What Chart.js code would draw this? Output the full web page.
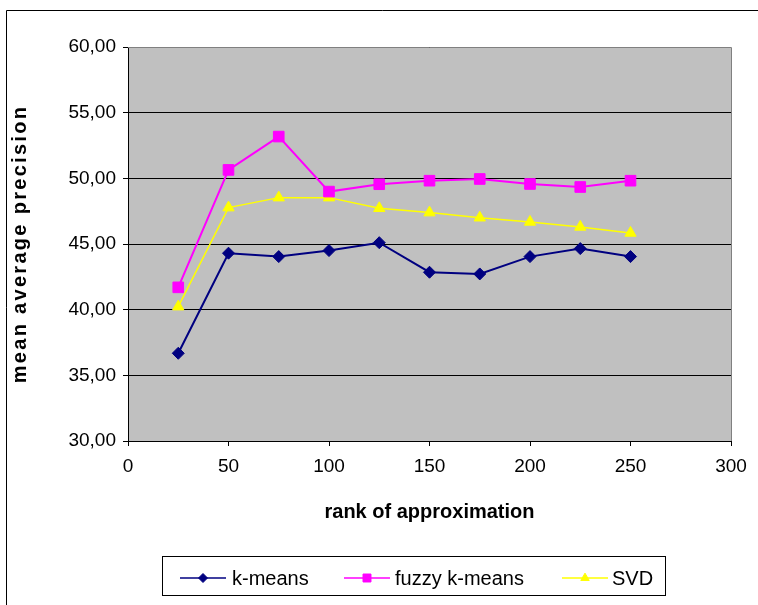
<!DOCTYPE html>
<html>
<head>
<meta charset="utf-8">
<script src="https://cdn.jsdelivr.net/npm/chart.js@4/dist/chart.umd.min.js"></script>
<style>
	html, body { margin: 0; padding: 0; background: #ffffff; }
	#wrap { position: relative; width: 758px; height: 605px; }
</style>
</head>
<body>
<div id="wrap"><canvas id="chart" width="758" height="605"></canvas></div>
<script>
// rank of approximation
const ranks = [25, 50, 75, 100, 125, 150, 175, 200, 225, 250]

// mean average precision per method
const kmeans = [36.68, 44.30, 44.04, 44.50, 45.10, 42.85, 42.72, 44.04, 44.65, 44.04]
const fuzzy_kmeans = [41.70, 50.64, 53.18, 48.99, 49.55, 49.82, 49.95, 49.57, 49.34, 49.82]
const svd = [40.23, 47.77, 48.53, 48.53, 47.72, 47.39, 47.00, 46.68, 46.30, 45.84]

const series_names = ["k-means", "fuzzy k-means", "SVD"]
const y_title = "mean average precision"
const x_title = "rank of approximation"

const FONT = "'Liberation Sans', Arial, sans-serif"

const to_points = values => values.map((v, i) => ({ x: ranks[i], y: v }))

/**
 * Gray plot area, frame, y title and legend box
 */
const frame_plugin = {
	id: "frame",
	beforeDraw(chart) {
		const { ctx, chartArea: a } = chart
		ctx.save()
		ctx.fillStyle = "#c0c0c0"
		ctx.fillRect(a.left, a.top, a.right - a.left, a.bottom - a.top)
		ctx.restore()
	},
	afterDraw(chart) {
		const { ctx, chartArea: a } = chart
		ctx.save()

		// outer chart border
		ctx.strokeStyle = "#000000"
		ctx.lineWidth = 1
		ctx.beginPath()
		ctx.moveTo(6.5, 605)
		ctx.lineTo(6.5, 10.5)
		ctx.lineTo(758, 10.5)
		ctx.stroke()

		// top and right edge of plot area
		ctx.strokeStyle = "#808080"
		ctx.beginPath()
		ctx.moveTo(a.left, a.top + 0.5)
		ctx.lineTo(a.right + 0.5, a.top + 0.5)
		ctx.lineTo(a.right + 0.5, a.bottom)
		ctx.stroke()

		// y axis title, spaced letters
		ctx.save()
		ctx.translate(20, (a.top + a.bottom) / 2)
		ctx.rotate(-Math.PI / 2)
		ctx.font = "bold 20px " + FONT
		ctx.letterSpacing = "2.3px"
		ctx.textAlign = "center"
		ctx.textBaseline = "middle"
		ctx.fillStyle = "#000000"
		ctx.fillText(y_title, 0, 0)
		ctx.restore()

		// legend
		ctx.strokeStyle = "#000000"
		ctx.lineWidth = 1
		ctx.strokeRect(162.5, 556.5, 503, 39)

		const items = [
			{ x: 180, text_x: 232 },
			{ x: 344, text_x: 395 },
			{ x: 562, text_x: 612 }
		]
		const mid_y = 578
		ctx.font = "20px " + FONT
		ctx.textBaseline = "middle"

		items.forEach((item, i) => {
			const ds = chart.data.datasets[i]
			ctx.strokeStyle = ds.borderColor
			ctx.lineWidth = 1.5
			ctx.beginPath()
			ctx.moveTo(item.x, mid_y)
			ctx.lineTo(item.x + 46, mid_y)
			ctx.stroke()

			ctx.fillStyle = ds.pointBackgroundColor
			ctx.strokeStyle = ds.pointBackgroundColor
			ctx.lineWidth = 1
			Chart.helpers.drawPoint(ctx, {
				pointStyle: ds.pointStyle,
				radius: ds.pointRadius * 0.75,
				borderWidth: 1
			}, item.x + 23, mid_y)

			ctx.fillStyle = "#000000"
			ctx.fillText(series_names[i], item.text_x, mid_y + 1)
		})

		ctx.restore()
	}
}

new Chart(document.getElementById("chart"), {
	type: "line",
	data: {
		datasets: [
			{
				label: series_names[0],
				data: to_points(kmeans),
				borderColor: "#000080",
				backgroundColor: "#000080",
				pointBackgroundColor: "#000080",
				pointBorderColor: "#000080",
				borderWidth: 2,
				pointStyle: "rectRot",
				pointRadius: 6,
				pointBorderWidth: 1
			},
			{
				label: series_names[1],
				data: to_points(fuzzy_kmeans),
				borderColor: "#ff00ff",
				backgroundColor: "#ff00ff",
				pointBackgroundColor: "#ff00ff",
				pointBorderColor: "#ff00ff",
				borderWidth: 2,
				pointStyle: "rect",
				pointRadius: 7.5,
				pointBorderWidth: 1
			},
			{
				label: series_names[2],
				data: to_points(svd),
				borderColor: "#ffff00",
				backgroundColor: "#ffff00",
				pointBackgroundColor: "#ffff00",
				pointBorderColor: "#ffff00",
				borderWidth: 1.5,
				pointStyle: "triangle",
				pointRadius: 6.5,
				pointBorderWidth: 1
			}
		]
	},
	options: {
		responsive: false,
		animation: false,
		devicePixelRatio: 1,
		layout: {
			padding: { left: 0, right: 27, top: 47, bottom: 0 }
		},
		plugins: {
			legend: { display: false },
			tooltip: { enabled: false }
		},
		scales: {
			x: {
				type: "linear",
				min: 0,
				max: 300,
				afterFit: scale => { scale.height = 164 },
				ticks: {
					stepSize: 50,
					color: "#000000",
					padding: 9,
					font: { family: FONT, size: 19 }
				},
				grid: {
					drawOnChartArea: false,
					drawTicks: true,
					tickLength: 5,
					color: "#000000"
				},
				border: { display: true, color: "#000000", width: 1 },
				title: {
					display: true,
					text: x_title,
					color: "#000000",
					font: { family: FONT, size: 20, weight: "bold" },
					padding: { top: 0, bottom: 81 }
				}
			},
			y: {
				min: 30,
				max: 60,
				afterFit: scale => { scale.width = 128 },
				ticks: {
					stepSize: 5,
					color: "#000000",
					padding: 7,
					font: { family: FONT, size: 19 },
					callback: value => value.toFixed(2).replace(".", ",")
				},
				grid: {
					color: "#000000",
					lineWidth: 1,
					tickLength: 5
				},
				border: { display: true, color: "#000000", width: 1 }
			}
		}
	},
	plugins: [frame_plugin]
})
</script>
</body>
</html>
